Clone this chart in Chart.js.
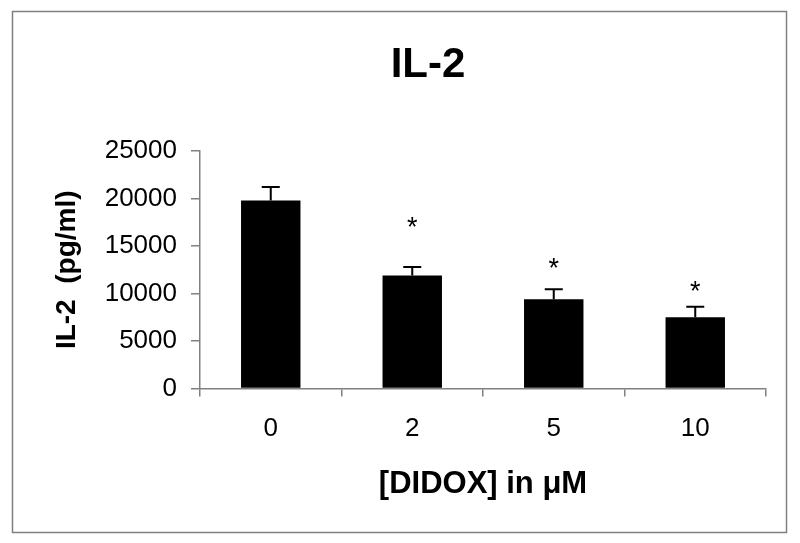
<!DOCTYPE html>
<html>
<head>
<meta charset="utf-8">
<script src="https://cdn.jsdelivr.net/npm/chart.js@4.4.1/dist/chart.umd.min.js"></script>
<style>
  html, body { margin: 0; padding: 0; background: #fff; }
  #wrap { width: 800px; height: 543px; position: relative; }
</style>
</head>
<body>
<div id="wrap"><canvas id="il2Chart"></canvas></div>
<script>
// Data
const chartTitle = 'IL-2';
const doses = ['0', '2', '5', '10'];
const il2Means = [19800, 11900, 9400, 7500];
const il2Errors = [1400, 900, 1050, 1100];
const starValues = [null, 17400, 13100, 10600];
const yTicks = [0, 5000, 10000, 15000, 20000, 25000];

const FONT = '"Liberation Sans", Arial, Helvetica, sans-serif';
const AXIS_GREY = '#808080';

// Frame round the whole picture, plus the big title
const framePlugin = {
    id: 'frame',
    afterDraw(chart) {
        const ctx = chart.ctx;
        ctx.save();
        ctx.strokeStyle = AXIS_GREY;
        ctx.lineWidth = 1.5;
        ctx.strokeRect(12.5, 11.5, 774, 521);

        ctx.fillStyle = '#000';
        ctx.font = 'bold 42px ' + FONT;
        ctx.textAlign = 'center';
        ctx.textBaseline = 'middle';
        ctx.fillText(chartTitle, 428, 65);
        ctx.restore();
    }
};

// Upper error bars and significance stars
const errorBarPlugin = {
    id: 'errorBars',
    afterDatasetsDraw(chart) {
        const ctx = chart.ctx;
        const meta = chart.getDatasetMeta(0);
        const y = chart.scales.y;
        ctx.save();
        ctx.strokeStyle = '#000';
        ctx.lineWidth = 2;
        meta.data.forEach((bar, i) => {
            const top = y.getPixelForValue(il2Means[i] + il2Errors[i]);
            ctx.beginPath();
            ctx.moveTo(bar.x, bar.y);
            ctx.lineTo(bar.x, top);
            ctx.moveTo(bar.x - 9, top);
            ctx.lineTo(bar.x + 9, top);
            ctx.stroke();

            if (starValues[i] != null) {
                ctx.fillStyle = '#000';
                ctx.font = '27px ' + FONT;
                ctx.textAlign = 'center';
                ctx.textBaseline = 'middle';
                ctx.fillText('*', bar.x, y.getPixelForValue(starValues[i]) + 5);
            }
        });
        ctx.restore();
    }
};

new Chart(document.getElementById('il2Chart'), {
    type: 'bar',
    data: {
        labels: doses,
        datasets: [{
            data: il2Means,
            backgroundColor: '#000',
            borderWidth: 0,
            categoryPercentage: 1,
            barPercentage: 0.42
        }]
    },
    options: {
        responsive: true,
        maintainAspectRatio: false,
        animation: false,
        layout: {
            padding: { left: 50, right: 34, top: 151, bottom: 40 }
        },
        plugins: {
            legend: { display: false },
            tooltip: { enabled: false },
            title: { display: false }
        },
        scales: {
            y: {
                min: 0,
                max: 25000,
                afterBuildTicks(axis) {
                    axis.ticks = yTicks.map(v => ({ value: v }));
                },
                afterFit(axis) {
                    axis.width = 150;
                },
                border: { display: true, color: AXIS_GREY, width: 1.5 },
                grid: {
                    display: true,
                    drawOnChartArea: false,
                    drawTicks: true,
                    tickLength: 9,
                    color: AXIS_GREY,
                    lineWidth: 1.5
                },
                ticks: {
                    color: '#000',
                    padding: 14,
                    font: { family: FONT, size: 26 },
                    callback: (value) => String(value)
                },
                title: {
                    display: true,
                    text: 'IL-2  (pg/ml)',
                    color: '#000',
                    font: { family: FONT, size: 28, weight: 'bold' },
                    padding: { top: 0, bottom: 0 }
                }
            },
            x: {
                border: { display: true, color: AXIS_GREY, width: 1.5 },
                grid: {
                    display: true,
                    offset: true,
                    drawOnChartArea: false,
                    drawTicks: true,
                    tickLength: 8,
                    color: AXIS_GREY,
                    lineWidth: 1.5
                },
                ticks: {
                    color: '#000',
                    padding: 17,
                    font: { family: FONT, size: 26 }
                },
                title: {
                    display: true,
                    text: '[DIDOX] in \u03bcM',
                    color: '#000',
                    font: { family: FONT, size: 31, weight: 'bold' },
                    padding: { top: 4, bottom: 0 }
                }
            }
        }
    },
    plugins: [framePlugin, errorBarPlugin]
});
</script>
</body>
</html>
